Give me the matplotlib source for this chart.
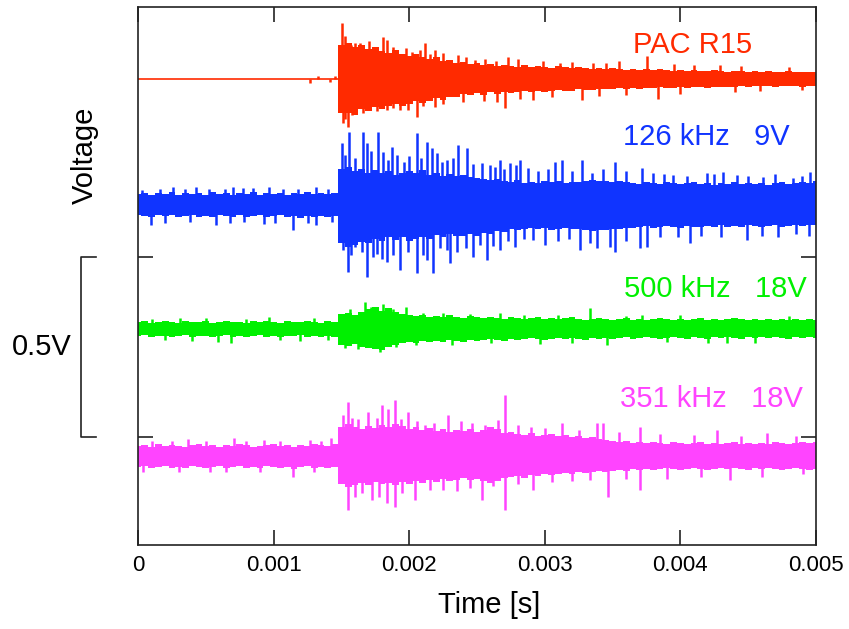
import numpy as np
import matplotlib.pyplot as plt
from matplotlib import transforms

plt.rcParams['font.family'] = ['Liberation Sans', 'DejaVu Sans']

# --- Time grid of the envelope bins (s) ---
t_grid = np.linspace(0, 0.005, 101)

# --- Trace baselines (mV) and colours ---
BASE = {'red': 1294, 'blue': 944, 'green': 600, 'magenta': 244}
COLORS = {'red': '#ff2a00', 'blue': '#1034ff', 'green': '#00f000', 'magenta': '#ff44ff'}

# --- Envelope of each trace per bin: upper / lower excursion (mV) ---
RED_HI = [0] * 30 + [
    94, 100, 89, 94, 83, 89, 78, 72, 80, 70, 64, 69, 62, 56, 60, 50, 52, 44, 47, 42,
    44, 39, 42, 36, 39, 36, 33, 39, 33, 36, 33, 31, 36, 33, 31, 33, 31, 28, 31, 28,
    31, 28, 25, 28, 25, 28, 25, 28, 25, 22, 25, 22, 25, 22, 22, 25, 22, 19, 22, 22,
    19, 22, 19, 22, 19, 19, 22, 19, 19, 19, 19]
RED_LO = [0] * 30 + [
    94, 94, 100, 83, 89, 78, 83, 76, 70, 75, 68, 62, 66, 62, 53, 58, 49, 50, 42, 44,
    39, 44, 36, 42, 36, 39, 36, 33, 36, 33, 36, 33, 31, 33, 33, 28, 31, 31, 28, 28,
    28, 25, 28, 25, 28, 25, 25, 22, 25, 25, 22, 25, 22, 22, 25, 22, 22, 22, 22, 19,
    22, 19, 19, 19, 22, 19, 19, 19, 22, 19, 19]

BLUE_HI = [
    31, 33, 28, 33, 31, 36, 28, 33, 31, 33, 28, 36, 31, 33, 28, 33, 31, 36, 28, 33,
    31, 33, 28, 33, 31, 36, 31, 33, 31, 33,
    100, 106, 94, 100, 89, 97, 89, 94, 83, 89, 94, 89, 97, 83, 89, 80, 86, 80, 83, 78,
    75, 72, 69, 72, 67, 64, 69, 61, 64, 61, 67, 64, 67, 61, 64, 64, 67, 69, 67, 66,
    64, 67, 64, 61, 58, 64, 61, 58, 64, 61, 58, 61, 64, 58, 61, 56, 61, 58, 64, 58,
    61, 58, 61, 56, 61, 64, 58, 61, 64, 61, 67]
BLUE_LO = [
    28, 31, 33, 28, 31, 28, 33, 31, 28, 33, 31, 33, 28, 31, 33, 28, 33, 31, 28, 33,
    31, 28, 33, 31, 36, 31, 33, 31, 33, 31,
    106, 117, 111, 103, 106, 94, 100, 89, 97, 89, 100, 94, 89, 94, 83, 89, 80, 86, 86, 81,
    86, 78, 80, 72, 74, 67, 69, 67, 64, 67, 64, 69, 67, 64, 67, 66, 70, 72, 70, 69,
    67, 66, 64, 64, 61, 58, 64, 61, 58, 61, 64, 58, 61, 61, 58, 61, 56, 61, 58, 61,
    56, 58, 61, 58, 56, 61, 58, 56, 58, 56, 56]

GREEN_HI = [
    19, 22, 17, 19, 22, 19, 17, 22, 19, 19, 22, 17, 19, 22, 19, 19, 17, 22, 19, 22,
    19, 17, 22, 19, 19, 22, 19, 17, 22, 19,
    42, 44, 39, 47, 56, 61, 50, 58, 47, 42, 39, 36, 39, 33, 36, 33, 39, 33, 31, 36,
    33, 31, 33, 31, 28, 33, 31, 28, 31, 33, 28, 31, 28, 31, 33, 28, 25, 28, 31, 28,
    25, 28, 31, 25, 28, 25, 28, 31, 28, 25, 28, 25, 28, 31, 25, 28, 25, 28, 31, 28,
    25, 28, 25, 28, 25, 28, 25, 28, 25, 28, 25]
GREEN_LO = [
    19, 17, 22, 19, 19, 22, 19, 17, 22, 19, 19, 22, 19, 17, 22, 19, 22, 19, 17, 22,
    19, 22, 19, 19, 17, 22, 19, 22, 19, 22,
    44, 47, 42, 50, 53, 56, 58, 50, 44, 39, 36, 39, 33, 36, 33, 36, 31, 33, 36, 31,
    33, 31, 28, 31, 33, 28, 31, 28, 25, 28, 31, 28, 25, 28, 25, 28, 31, 25, 28, 25,
    28, 25, 22, 28, 25, 22, 25, 28, 25, 22, 25, 28, 22, 25, 28, 22, 25, 22, 25, 28,
    22, 25, 22, 25, 22, 25, 28, 22, 25, 22, 25]

MAGENTA_HI = [
    31, 33, 28, 36, 31, 33, 31, 28, 33, 36, 31, 33, 28, 33, 31, 36, 33, 28, 31, 33,
    36, 31, 33, 28, 33, 31, 36, 33, 31, 36,
    83, 92, 83, 78, 86, 81, 89, 83, 92, 86, 78, 83, 75, 81, 72, 78, 69, 75, 72, 78,
    69, 75, 83, 78, 67, 69, 64, 61, 67, 58, 61, 64, 58, 61, 56, 58, 53, 56, 50, 47,
    44, 42, 44, 39, 42, 39, 42, 39, 36, 42, 39, 36, 39, 42, 36, 39, 36, 39, 42, 36,
    39, 36, 39, 36, 42, 39, 36, 39, 42, 39, 42]
MAGENTA_LO = [
    28, 25, 31, 28, 25, 31, 28, 31, 25, 28, 31, 28, 25, 31, 28, 25, 31, 28, 31, 25,
    28, 31, 28, 33, 28, 25, 31, 28, 31, 28,
    75, 83, 78, 72, 78, 69, 75, 72, 78, 69, 75, 67, 72, 64, 69, 61, 67, 64, 58, 64,
    61, 67, 72, 67, 58, 56, 53, 58, 50, 53, 47, 50, 47, 44, 47, 42, 44, 42, 39, 42,
    39, 36, 39, 33, 36, 33, 36, 33, 31, 33, 36, 33, 31, 33, 36, 33, 31, 33, 31, 33,
    36, 31, 33, 31, 33, 36, 33, 31, 33, 36, 33]

# --- Isolated peaks: time (ms) and excursion (mV) ---
RED_SPIKE_T = [1.504, 1.512, 1.549, 1.600, 1.637, 1.689, 1.726, 1.807, 1.836, 1.836,
               1.881, 1.932, 2.058, 2.116, 2.190, 2.190, 2.360, 2.485, 2.706, 2.729,
               2.913, 3.112, 3.274, 3.355, 3.754, 3.835, 4.292, 4.587,
               1.268, 1.327, 1.416, 1.453,
               1.530, 1.570, 1.660, 1.700, 1.760, 1.900, 1.980, 2.020, 2.080, 2.150,
               2.250, 2.420, 2.560, 2.640, 2.800, 2.990, 3.200, 3.450, 3.550, 3.950,
               4.100, 4.450, 4.800,
               1.530, 1.580, 1.660, 1.760, 1.880, 1.990, 2.100, 2.250, 2.400, 2.550,
               2.650, 2.820, 3.050, 3.400, 3.600, 4.000, 4.400, 4.900]
RED_SPIKE_V = [156, -122, -133, 100, 100, -78, 72, 117, 108, -86,
               89, -86, -106, 100, 81, -78, 67, 53, -81, 61,
               -58, 44, -58, 44, 64, -56, 39, -33,
               -11, 8, -8, 8,
               120, 95, 90, 105, 85, 80, 85, 75, 80, 70,
               72, 60, 55, 50, 55, 50, 48, 45, 50, 42,
               40, 35, 33,
               -110, -100, -95, -90, -80, -85, -75, -70, -65, -60,
               -65, -55, -50, -48, -45, -42, -36, -30]

BLUE_SPIKE_T = [0.258, 0.428, 0.701, 0.774, 0.966, 1.069, 1.313, 0.096, 0.575, 0.929, 1.143, 1.313,
                0.030, 0.160, 0.350, 0.520, 0.640, 0.850, 1.180, 1.400,
                0.200, 0.380, 0.680, 0.780, 1.010, 1.250, 1.430,
                1.504, 1.556, 1.659, 1.689, 1.770, 1.807, 1.873, 2.058, 2.131, 2.168,
                2.205, 2.279, 2.360, 2.426, 2.537, 2.596, 2.670, 2.743, 2.817, 2.876,
                3.075, 3.127, 3.274, 3.518, 3.717, 3.945, 4.196, 4.314, 4.417, 4.609,
                4.830, 4.956,
                1.530, 1.600, 1.720, 1.840, 1.910, 1.960, 2.000, 2.090, 2.240, 2.320,
                2.470, 2.630, 2.700, 2.790, 2.950, 3.020, 3.200, 3.350, 3.430, 3.600,
                3.800, 3.880, 4.050, 4.250, 4.500, 4.700, 4.900,
                1.512, 1.549, 1.600, 1.689, 1.733, 1.836, 1.932, 2.058, 2.131, 2.175,
                2.279, 2.301, 2.471, 2.574, 2.670, 2.780, 2.913, 3.001, 3.260, 3.385,
                3.481, 3.518, 3.702, 3.754, 4.071, 4.491, 4.720,
                1.570, 1.650, 1.760, 1.800, 1.880, 1.990, 2.100, 2.230, 2.350, 2.420,
                2.520, 2.620, 2.730, 2.850, 3.100, 3.180, 3.330, 3.600, 3.850, 3.980,
                4.150, 4.300, 4.600, 4.850, 4.950]
BLUE_SPIKE_V = [50, 50, 50, 47, 50, 44, 50, -56, -56, -53, -69, -56,
                42, 45, 45, 44, 45, 47, 45, 45,
                -50, -47, -50, -47, -50, -50, -47,
                172, 203, 203, 172, 203, 147, 161, 200, 175, 158,
                145, 125, 167, 158, 117, 111, 125, 117, 125, 103,
                120, 125, 125, 120, 103, 83, 89, 92, 83, 78,
                75, 92,
                140, 130, 150, 125, 140, 120, 135, 130, 120, 130,
                115, 105, 100, 110, 95, 100, 95, 90, 100, 95,
                90, 85, 80, 85, 80, 85, 80,
                -125, -186, -117, -200, -145, -158, -181, -189, -153, -189,
                -125, -161, -145, -153, -125, -117, -97, -111, -125, -120,
                -117, -131, -120, -117, -106, -97, -89,
                -140, -130, -135, -150, -140, -130, -140, -120, -130, -120,
                -110, -115, -100, -95, -100, -95, -105, -100, -90, -90,
                -85, -90, -85, -80, -85]

GREEN_SPIKE_T = [0.966, 0.686, 0.590, 0.310, 1.195,
                 1.674, 1.807, 1.976, 1.527, 1.785, 2.316, 3.333, 3.459, 3.717,
                 4.344, 4.550, 2.670, 2.965,
                 1.560, 1.720, 1.880, 2.100, 2.250, 2.450, 2.850, 3.100, 3.600, 4.000,
                 4.800, 0.100, 0.500, 0.800, 1.300,
                 1.620, 1.900, 2.050, 2.600, 3.200, 3.900, 4.200, 0.200, 0.400, 1.050, 1.400]
GREEN_SPIKE_V = [33, -39, -36, 31, -33,
                 75, 69, 61, -53, -64, -44, 58, -44, 39,
                 -39, -39, 44, -42,
                 55, 62, 55, 45, 44, 42, 40, 38, 36, 38,
                 35, 28, 30, 28, 30,
                 -55, -50, -45, -40, -38, -36, -38, -31, -33, -30, -31]

MAGENTA_SPIKE_T = [0.369, 0.708, 0.929, 1.423, 1.143, 0.037, 0.531, 1.268,
                   0.100, 0.250, 0.500, 0.800, 1.050, 1.350, 0.300, 0.650, 0.900, 1.300,
                   1.512, 1.549, 1.622, 1.696, 1.799, 1.844, 1.895, 1.991, 2.116, 2.286,
                   2.463, 2.655, 2.706, 2.802, 3.127, 3.385, 3.429, 3.702, 4.270, 4.639,
                   1.580, 1.760, 1.940, 2.060, 2.180, 2.380, 2.560, 2.900, 3.000, 3.250,
                   3.550, 3.850, 4.100, 4.450, 4.850,
                   1.549, 1.600, 1.726, 1.836, 1.895, 2.043, 2.249, 2.537, 2.706, 2.913,
                   3.333, 3.466, 3.702, 4.366, 4.904,
                   1.650, 1.780, 1.950, 2.150, 2.350, 2.450, 2.620, 2.800, 3.050, 3.200,
                   3.600, 3.900, 4.150, 4.600]
MAGENTA_SPIKE_V = [50, 53, 47, 53, -56, -42, -42, 47,
                   44, 45, 44, 45, 44, 45, -40, -42, -40, -42,
                   117, 153, 106, 125, 145, 133, 158, 125, 89, 117,
                   94, 103, 172, 89, 94, 94, 94, 83, 75, 67,
                   110, 110, 105, 100, 95, 100, 90, 85, 80, 75,
                   70, 65, 62, 60, 58,
                   -147, -111, -120, -128, -139, -120, -92, -120, -147, -92,
                   -64, -111, -92, -64, -47,
                   -100, -110, -100, -90, -95, -85, -80, -75, -70, -65,
                   -60, -60, -55, -55]

LABELS = {'red': 'PAC R15', 'blue': '126 kHz   9V',
          'green': '500 kHz   18V', 'magenta': '351 kHz   18V'}

X_TICKS = [0, 0.001, 0.002, 0.003, 0.004, 0.005]
X_TICK_LABELS = ['0', '0.001', '0.002', '0.003', '0.004', '0.005']

traces = {
    'red': (RED_HI, RED_LO, RED_SPIKE_T, RED_SPIKE_V),
    'blue': (BLUE_HI, BLUE_LO, BLUE_SPIKE_T, BLUE_SPIKE_V),
    'green': (GREEN_HI, GREEN_LO, GREEN_SPIKE_T, GREEN_SPIKE_V),
    'magenta': (MAGENTA_HI, MAGENTA_LO, MAGENTA_SPIKE_T, MAGENTA_SPIKE_V),
}

# --- Figure ---
fig = plt.figure(figsize=(8.49, 6.29), dpi=100)
ax = fig.add_axes([138 / 849, 84 / 629, 678 / 849, 538 / 629])

for name, (hi, lo, st, sv) in traces.items():
    c = COLORS[name]
    base = BASE[name]
    ax.plot(t_grid, np.full_like(t_grid, base), color=c, lw=1.2)
    ax.fill_between(t_grid, base - np.array(lo), base + np.array(hi),
                    step='mid', color=c, lw=0)
    ax.vlines(np.array(st) * 1e-3, base, base + np.array(sv), color=c, lw=1.8)

# channel labels
ax.text(0.004528, 1367, LABELS['red'], color=COLORS['red'], fontsize=21, ha='right', va='baseline')
ax.text(0.004808, 1111, LABELS['blue'], color=COLORS['blue'], fontsize=21, ha='right', va='baseline')
ax.text(0.004934, 689, LABELS['green'], color=COLORS['green'], fontsize=21, ha='right', va='baseline')
ax.text(0.004904, 383, LABELS['magenta'], color=COLORS['magenta'], fontsize=21, ha='right', va='baseline')

ax.set_xlim(0, 0.005)
ax.set_ylim(0, 1494)
ax.set_xticks(X_TICKS)
ax.set_xticklabels(X_TICK_LABELS)
ax.set_yticks([300, 800])
ax.set_yticklabels([])
ax.tick_params(direction='in', length=10.5, width=1.2, color='#222222',
               top=True, right=True, labelsize=16, pad=7)
for sp in ax.spines.values():
    sp.set_linewidth(1.2)
    sp.set_color('#222222')

# 0.5 V scale bar beside the axis
trans = transforms.blended_transform_factory(fig.transFigure, ax.transData)
ax.plot([96 / 849, 81 / 849, 81 / 849, 96 / 849], [800, 800, 300, 300],
        transform=trans, clip_on=False, color='#222222', lw=1.2)
ax.text(42 / 849, 550, '0.5V', transform=trans, fontsize=21, ha='center', va='center')

fig.text(85 / 849, 1 - 155 / 629, 'Voltage', rotation=90, fontsize=21, ha='center', va='center')
fig.text(489 / 849, 1 - 605 / 629, 'Time [s]', fontsize=21, ha='center', va='center')

fig.savefig('out.png', dpi=100)
